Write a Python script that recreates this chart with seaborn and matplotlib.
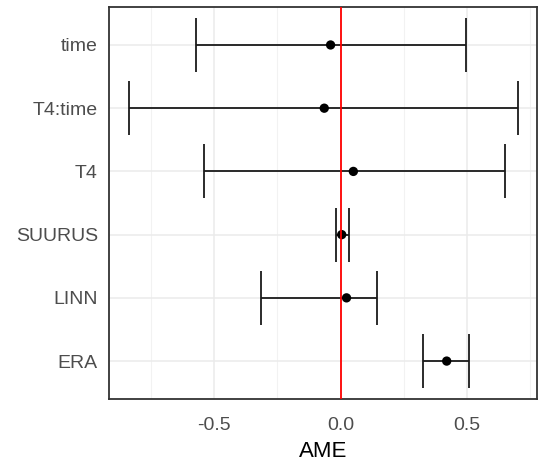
import matplotlib
matplotlib.use('Agg')
import matplotlib.pyplot as plt
from matplotlib.ticker import MultipleLocator, FixedLocator
import seaborn as sns
import pandas as pd

# average marginal effects with confidence limits
terms = ['time', 'T4:time', 'T4', 'SUURUS', 'LINN', 'ERA']
ame = [-0.040, -0.065, 0.050, 0.004, 0.023, 0.419]
lower = [-0.574, -0.837, -0.541, -0.020, -0.315, 0.327]
upper = [0.495, 0.702, 0.648, 0.033, 0.143, 0.507]

df = pd.DataFrame({'term': terms, 'AME': ame, 'lower': lower, 'upper': upper})
df['pos'] = range(len(terms))

sns.set_style('white')
plt.rcParams['font.family'] = ['Liberation Sans', 'DejaVu Sans']

fig = plt.figure(figsize=(5.39, 4.63), dpi=100)
ax = fig.add_axes([0.2022, 0.1382, 0.7941, 0.8466])

# grid like theme_bw
ax.xaxis.set_minor_locator(MultipleLocator(0.25))
ax.xaxis.set_major_locator(FixedLocator([-0.5, 0.0, 0.5]))
ax.grid(True, which='major', color='#EBEBEB', lw=1.1, zorder=0)
ax.grid(True, which='minor', axis='x', color='#F2F2F2', lw=0.8, zorder=0)
ax.set_axisbelow(True)

ax.errorbar(df['AME'], df['pos'],
            xerr=[df['AME'] - df['lower'], df['upper'] - df['AME']],
            fmt='none', ecolor='#1a1a1a', elinewidth=1.3, capsize=19.5,
            capthick=1.3, zorder=3)
sns.scatterplot(data=df, x='AME', y='pos', color='black', s=45,
                edgecolor='none', zorder=4, ax=ax)
ax.axvline(0, color='#FF0000', lw=1.3, zorder=5)

ax.set_yticks(df['pos'])
ax.set_yticklabels(terms)
ax.set_ylim(5.6, -0.6)
ax.set_xlim(-0.916, 0.776)
ax.set_xticklabels(['-0.5', '0.0', '0.5'])

ax.tick_params(axis='both', which='major', length=5, width=1.1, color='#333333',
               labelsize=14, labelcolor='#4D4D4D', direction='out')
ax.tick_params(axis='x', which='major', pad=8)
ax.tick_params(axis='y', which='major', pad=3)
ax.tick_params(axis='x', which='minor', length=0)
for s in ax.spines.values():
    s.set_color('#333333')
    s.set_linewidth(1.3)

ax.set_xlabel('AME', fontsize=16, color='black', labelpad=5)
ax.set_ylabel('')

fig.savefig('out.png', dpi=100)
